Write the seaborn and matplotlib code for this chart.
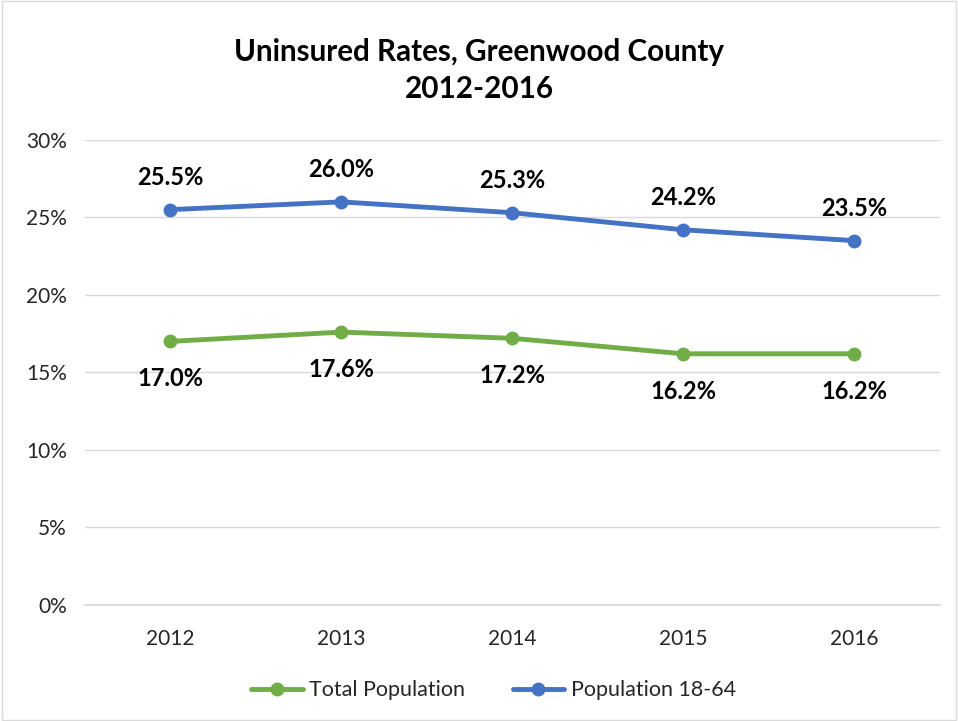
import matplotlib
matplotlib.use("Agg")
import matplotlib.pyplot as plt
import seaborn as sns
import pandas as pd
from matplotlib.patches import Rectangle

years = ["2012", "2013", "2014", "2015", "2016"]
total_population = [17.0, 17.6, 17.2, 16.2, 16.2]
population_18_64 = [25.5, 26.0, 25.3, 24.2, 23.5]
series_names = ["Total Population", "Population 18-64"]
colors = ["#70AD47", "#4472C4"]

sns.set_theme(style="white")
plt.rcParams['font.family'] = ['Lato', 'DejaVu Sans']

df = pd.DataFrame({
    "year": years * 2,
    "value": total_population + population_18_64,
    "series": [series_names[0]] * 5 + [series_names[1]] * 5,
})

fig = plt.figure(figsize=(9.58, 7.21), dpi=100)
ax = fig.add_axes([0.0887, 0.161, 0.892, 0.645])

sns.lineplot(data=df, x="year", y="value", hue="series", palette=colors,
             marker="o", markersize=10, linewidth=3.5, markeredgewidth=0,
             sort=False, ax=ax)

ax.set_ylim(0, 30)
ax.set_xlim(-0.5, 4.5)
ax.set_yticks(range(0, 31, 5))
ax.set_yticklabels([f"{v}%" for v in range(0, 31, 5)], fontsize=15, color="#262626")
ax.tick_params(axis="x", labelsize=15, colors="#262626", pad=17, length=0)
ax.tick_params(axis="y", length=0, pad=13)
ax.set_xlabel("")
ax.set_ylabel("")
ax.grid(axis="y", color="#D9D9D9", linewidth=1)
for s in ["top", "right", "left"]:
    ax.spines[s].set_visible(False)
ax.spines["bottom"].set_color("#D9D9D9")

for i, v in enumerate(population_18_64):
    ax.annotate(f"{v:.1f}%", (i, v), xytext=(0, 23), textcoords="offset points",
                ha="center", va="center", fontsize=17, fontweight="bold", color="black")
for i, v in enumerate(total_population):
    ax.annotate(f"{v:.1f}%", (i, v), xytext=(0, -27), textcoords="offset points",
                ha="center", va="center", fontsize=17, fontweight="bold", color="black")

fig.text(0.5, 0.928, "Uninsured Rates, Greenwood County", ha="center", va="center",
         fontsize=21.3, fontweight="bold", color="black")
fig.text(0.5, 0.876, "2012-2016", ha="center", va="center",
         fontsize=21.3, fontweight="bold", color="black")

leg = ax.legend(loc="center", bbox_to_anchor=(0.478, -0.184), ncol=2, frameon=False,
                fontsize=15.5, handlelength=2.4, handletextpad=0.3, columnspacing=2.2)
for t in leg.get_texts():
    t.set_color("#262626")

fig.patches.append(Rectangle((0.002, 0.002), 0.996, 0.996, transform=fig.transFigure,
                             fill=False, edgecolor="#D9D9D9", linewidth=1))

fig.savefig("out.png", dpi=100)
